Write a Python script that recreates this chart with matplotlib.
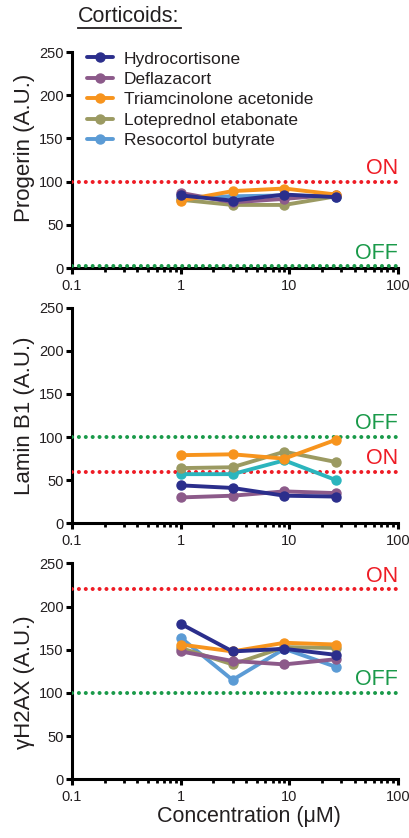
import matplotlib
matplotlib.use("Agg")
import matplotlib.pyplot as plt
from matplotlib.ticker import FixedLocator, LogLocator, NullFormatter

plt.rcParams['font.family'] = ['Liberation Sans', 'DejaVu Sans']

# ---------------- data ----------------
conc = [1, 3, 9, 27]
drugs = ["Hydrocortisone", "Deflazacort", "Triamcinolone acetonide",
         "Loteprednol etabonate", "Resocortol butyrate"]

progerin_hydro = [84, 78, 85, 82]
progerin_defla = [87, 76, 80, 85]
progerin_triam = [78, 89, 92, 85]
progerin_lote = [79, 73, 73, 83]
progerin_reso = [81, 83, 84, 82]

laminb1_hydro = [44, 41, 32, 31]
laminb1_defla = [30, 32, 37, 35]
laminb1_triam = [79, 80, 75, 97]
laminb1_lote = [64, 65, 83, 71]
laminb1_reso = [57, 57, 73, 50]

h2ax_hydro = [180, 148, 151, 144]
h2ax_defla = [148, 137, 133, 139]
h2ax_triam = [156, 148, 158, 156]
h2ax_lote = [152, 133, 153, 152]
h2ax_reso = [164, 115, 151, 130]

panel_ylabels = ["Progerin (A.U.)", "Lamin B1 (A.U.)", "\u03b3H2AX (A.U.)"]
on_levels = [100, 60, 220]
off_levels = [2, 100, 100]

yticks = [0, 50, 100, 150, 200, 250]
xticks = [0.1, 1, 10, 100]
xticklabels = ["0.1", "1", "10", "100"]

# ---------------- style ----------------
colors = ["#2b2e8c", "#8c5a8a", "#f7941d", "#9b9a62", "#5b9bd5"]
reso_colors = ["#5b9bd5", "#2bb5bd", "#5b9bd5"]
red = "#ee1c25"
green = "#1a9a4a"
txt = "#231f20"

panels = [
    [progerin_hydro, progerin_defla, progerin_triam, progerin_lote, progerin_reso],
    [laminb1_hydro, laminb1_defla, laminb1_triam, laminb1_lote, laminb1_reso],
    [h2ax_hydro, h2ax_defla, h2ax_triam, h2ax_lote, h2ax_reso],
]

W, H = 409, 838
fig = plt.figure(figsize=(W / 100, H / 100), dpi=100)

left = 72 / W
width = (398 - 72) / W
tops_bottoms = [(52, 268), (307.7, 523.3), (563.3, 779.3)]
ylabel_y = [0.556, 0.5, 0.45]
zorders = [10, 7, 8, 6, 5]

axes = []
for i, (t, b) in enumerate(tops_bottoms):
    ax = fig.add_axes([left, 1 - b / H, width, (b - t) / H])
    axes.append(ax)
    ax.set_xscale('log')
    ax.set_xlim(0.1, 100)
    ax.set_ylim(0, 250)

    dot = dict(linestyle=(0, (0.01, 1.7)), lw=2.9, dash_capstyle='round', zorder=3)
    ax.axhline(on_levels[i], color=red, **dot)
    ax.axhline(off_levels[i], color=green, **dot)
    ax.text(100, on_levels[i] + 3, "ON", color=red, ha='right', va='bottom', fontsize=15.5)
    ax.text(100, off_levels[i] + 3, "OFF", color=green, ha='right', va='bottom', fontsize=15.5)

    series = panels[i]
    handles = []
    for j, vals in enumerate(series):
        c = colors[j] if j < 4 else reso_colors[i]
        ln, = ax.plot(conc, vals, color=c, lw=2.8, marker='o', markersize=6.5,
                      solid_capstyle='round', solid_joinstyle='round',
                      zorder=zorders[j], label=drugs[j])
        handles.append(ln)
    if i == 0:
        ax.legend(handles=handles, loc='upper left', bbox_to_anchor=(0.025, 1.035),
                  frameon=False, fontsize=12.5, handlelength=1.5, handletextpad=0.6,
                  labelspacing=0.3, borderaxespad=0.0, labelcolor=txt)

    for s in ['top', 'right']:
        ax.spines[s].set_visible(False)
    for s in ['left', 'bottom']:
        ax.spines[s].set_linewidth(2.2)
        ax.spines[s].set_color('black')
    ax.yaxis.set_major_locator(FixedLocator(yticks))
    ax.xaxis.set_major_locator(FixedLocator(xticks))
    ax.set_xticklabels(xticklabels)
    ax.xaxis.set_minor_locator(LogLocator(base=10, subs=range(2, 10)))
    ax.xaxis.set_minor_formatter(NullFormatter())
    ax.tick_params(axis='both', which='major', direction='out', length=4, width=2.2,
                   colors='black', labelcolor=txt, labelsize=10.5, pad=2)
    ax.tick_params(axis='x', which='major', pad=4)
    ax.tick_params(axis='x', which='minor', direction='out', length=3, width=2.0, colors='black')
    ax.set_ylabel(panel_ylabels[i], fontsize=16, color=txt)
    ax.yaxis.set_label_coords(-0.115, ylabel_y[i])

axes[2].set_xlabel("Concentration (\u03bcM)", fontsize=15.5, color=txt)
axes[2].xaxis.set_label_coords(0.543, -0.125)
axes[2].xaxis.label.set_va('top')

fig.text(78 / W, 1 - 16 / H, "Corticoids:", fontsize=15.5, color=txt, ha='left', va='center')
fig.add_artist(plt.Line2D([78 / W, 181 / W], [1 - 28 / H, 1 - 28 / H],
                          color=txt, lw=1.3, transform=fig.transFigure))

fig.savefig("out.png", dpi=100)
